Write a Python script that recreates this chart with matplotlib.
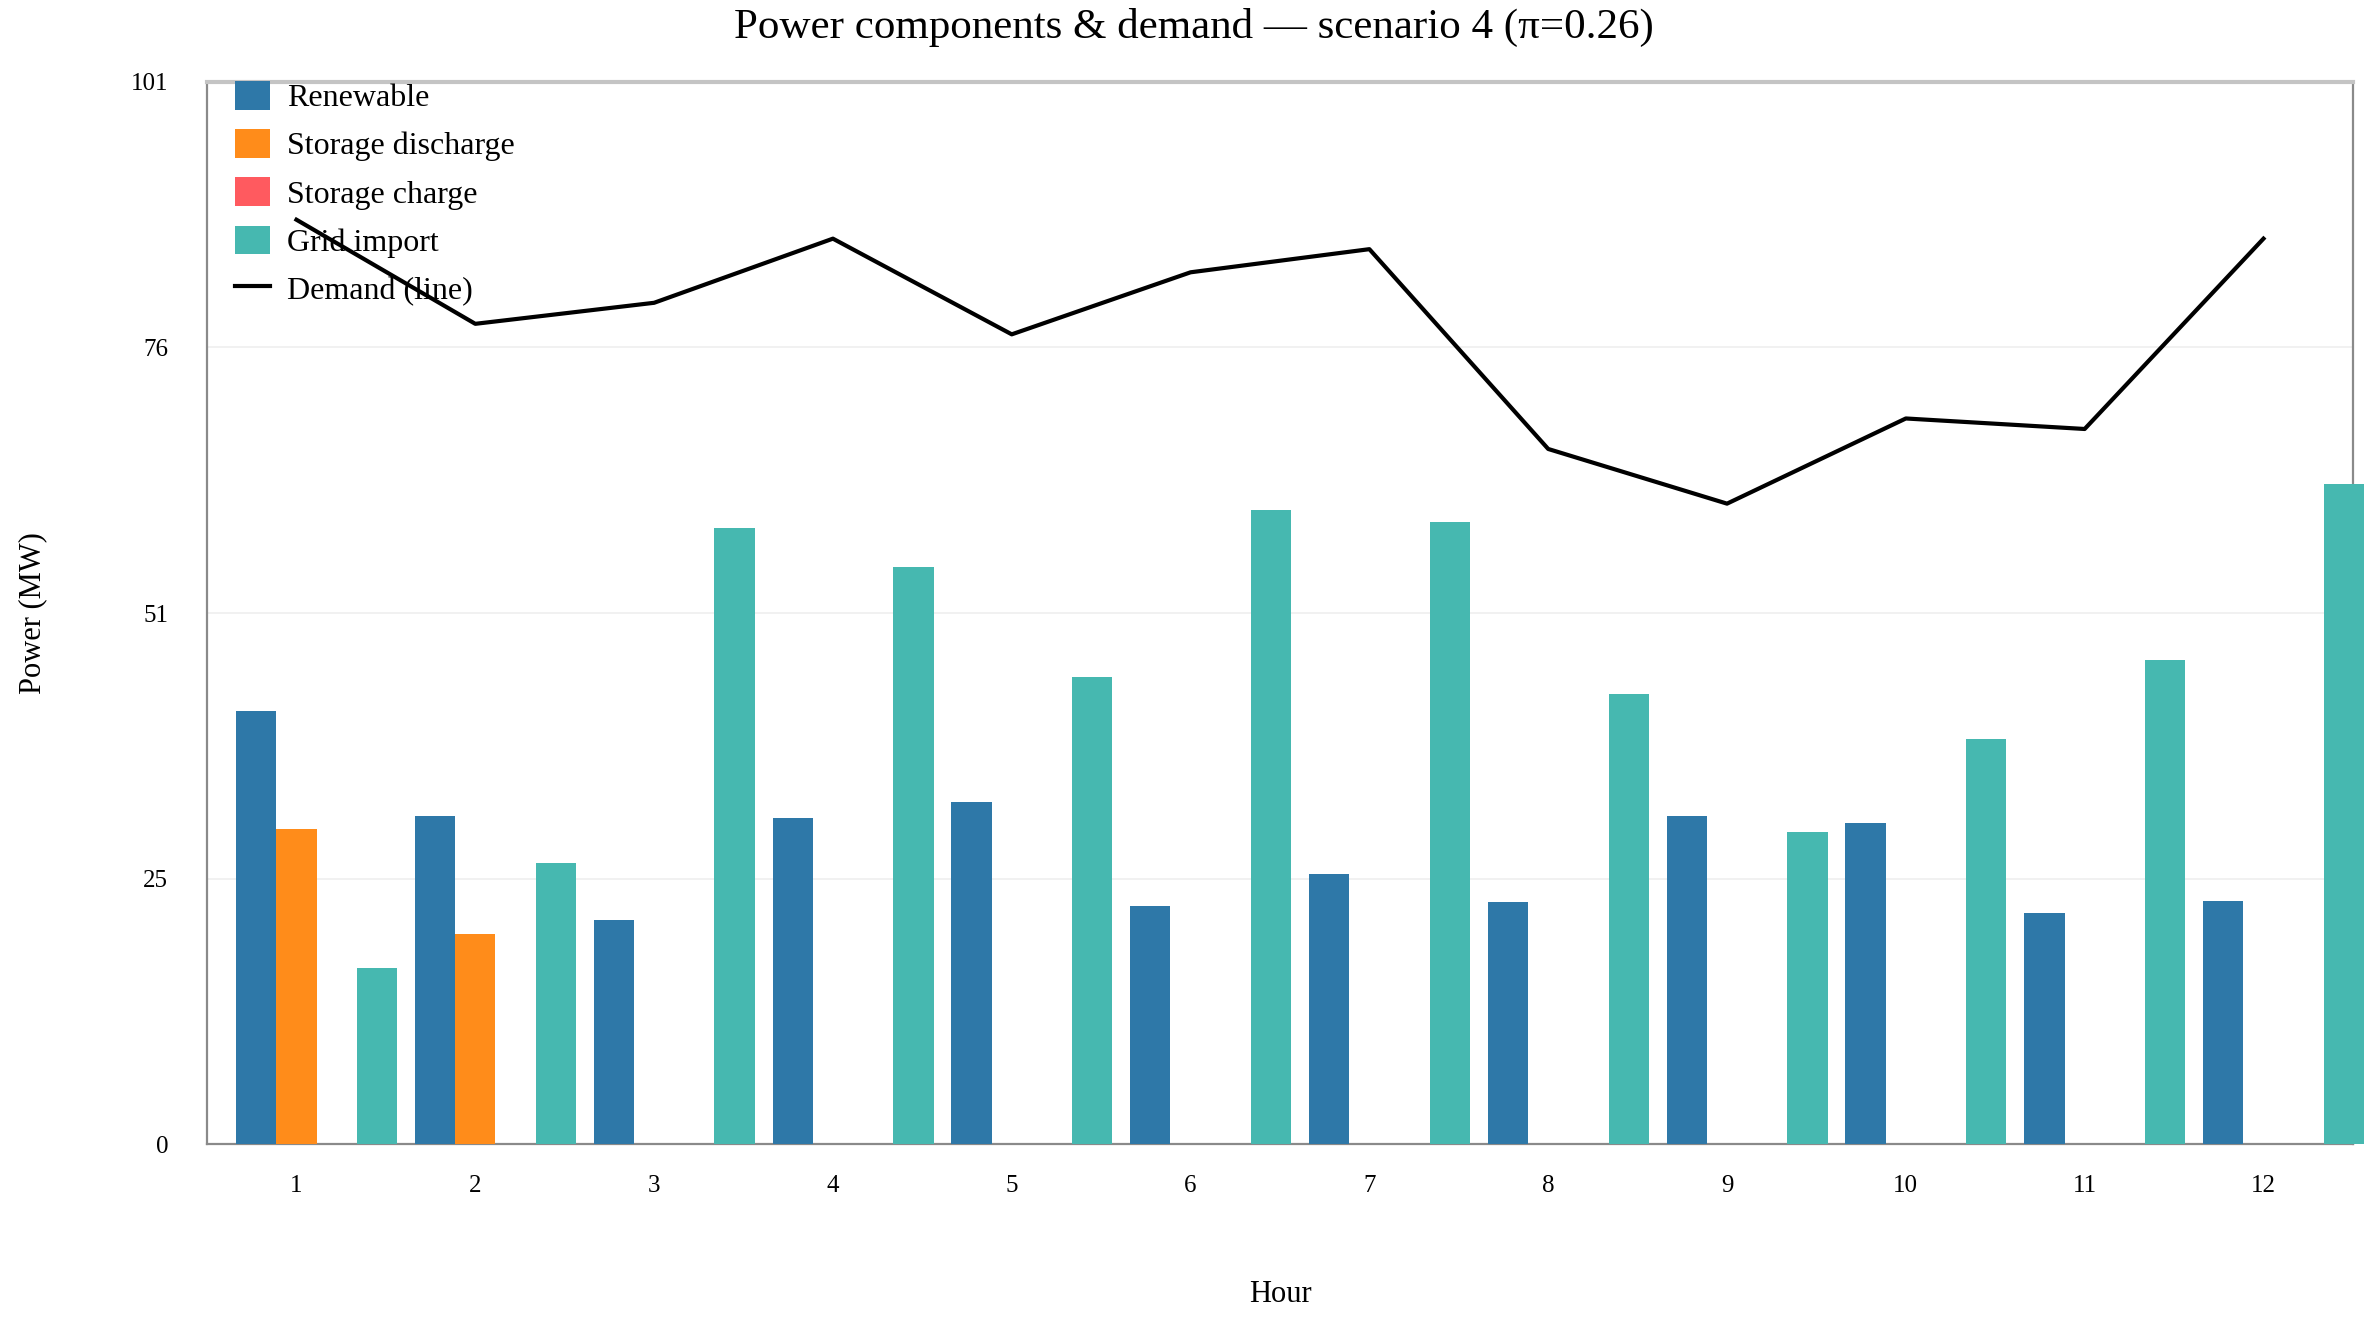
import matplotlib
matplotlib.use("Agg")
import matplotlib.pyplot as plt
import numpy as np

# hourly values (MW)
hours = np.arange(1, 13)
renewable = [41.2, 31.2, 21.3, 31.0, 32.5, 22.6, 25.7, 23.0, 31.2, 30.5, 22.0, 23.1]
discharge = [30.0, 20.0, 0, 0, 0, 0, 0, 0, 0, 0, 0, 0]
charge = [0, 0, 0, 0, 0, 0, 0, 0, 0, 0, 0, 0]
grid_import = [16.7, 26.7, 58.6, 54.9, 44.4, 60.3, 59.2, 42.8, 29.7, 38.5, 46.0, 62.8]
demand = [87.9, 78.0, 80.0, 86.1, 77.0, 82.9, 85.1, 66.1, 60.9, 69.0, 68.0, 86.1]

y_max = 101
y_ticklabels = ["0", "25", "51", "76", "101"]

plt.rcParams['font.family'] = ['Liberation Serif', 'DejaVu Serif']

fig = plt.figure(figsize=(23.69, 13.22), dpi=100)
ax = fig.add_axes([0.0874, 0.1346, 0.9058, 0.8034])

w = 0.225
series = [
    (renewable, 'Renewable', '#2e78a8', -1),
    (discharge, 'Storage discharge', '#ff8c1a', 0),
    (charge, 'Storage charge', '#ff5a5f', 1),
    (grid_import, 'Grid import', '#46b8b0', 2),
]
for vals, lab, col, k in series:
    ax.bar(hours + k * w, vals, width=w, color=col, label=lab,
           edgecolor='none', clip_on=False, zorder=3)

ax.plot(hours, demand, color='black', lw=3.0, label='Demand (line)', zorder=4)

ax.set_xlim(0.5, 12.5)
ax.set_ylim(0, y_max)
ax.set_xticks(hours)
ax.set_xticklabels([str(h) for h in hours])
ax.set_yticks(np.linspace(0, y_max, len(y_ticklabels)))
ax.set_yticklabels(y_ticklabels)
ax.tick_params(axis='both', length=0, labelsize=18)
ax.tick_params(axis='x', pad=22)
ax.tick_params(axis='y', pad=28)

ax.grid(axis='y', color='#efefef', lw=1.2, zorder=0)
ax.set_axisbelow(True)

for s in ['left', 'bottom', 'right']:
    ax.spines[s].set_color('#8a8a8a')
    ax.spines[s].set_linewidth(1.6)
ax.spines['top'].set_color('#c4c4c4')
ax.spines['top'].set_linewidth(3)

# title sits centred on the figure, not the axes
fig.text(0.504, 0.979, "Power components & demand \u2014 scenario 4 (\u03c0=0.26)",
         fontsize=31, ha='center', va='center')
ax.set_xlabel("Hour", fontsize=22, labelpad=60)
ax.set_ylabel("Power (MW)", fontsize=22, labelpad=60)

handles, labels = ax.get_legend_handles_labels()
order = [1, 2, 3, 4, 0]
ax.legend([handles[i] for i in order], [labels[i] for i in order],
          loc='upper left', bbox_to_anchor=(0.0025, 1.022), frameon=False, fontsize=23,
          handlelength=1.1, handleheight=1.0, handletextpad=0.55, labelspacing=0.5,
          borderaxespad=0.3)

fig.savefig("out.png", dpi=100)
